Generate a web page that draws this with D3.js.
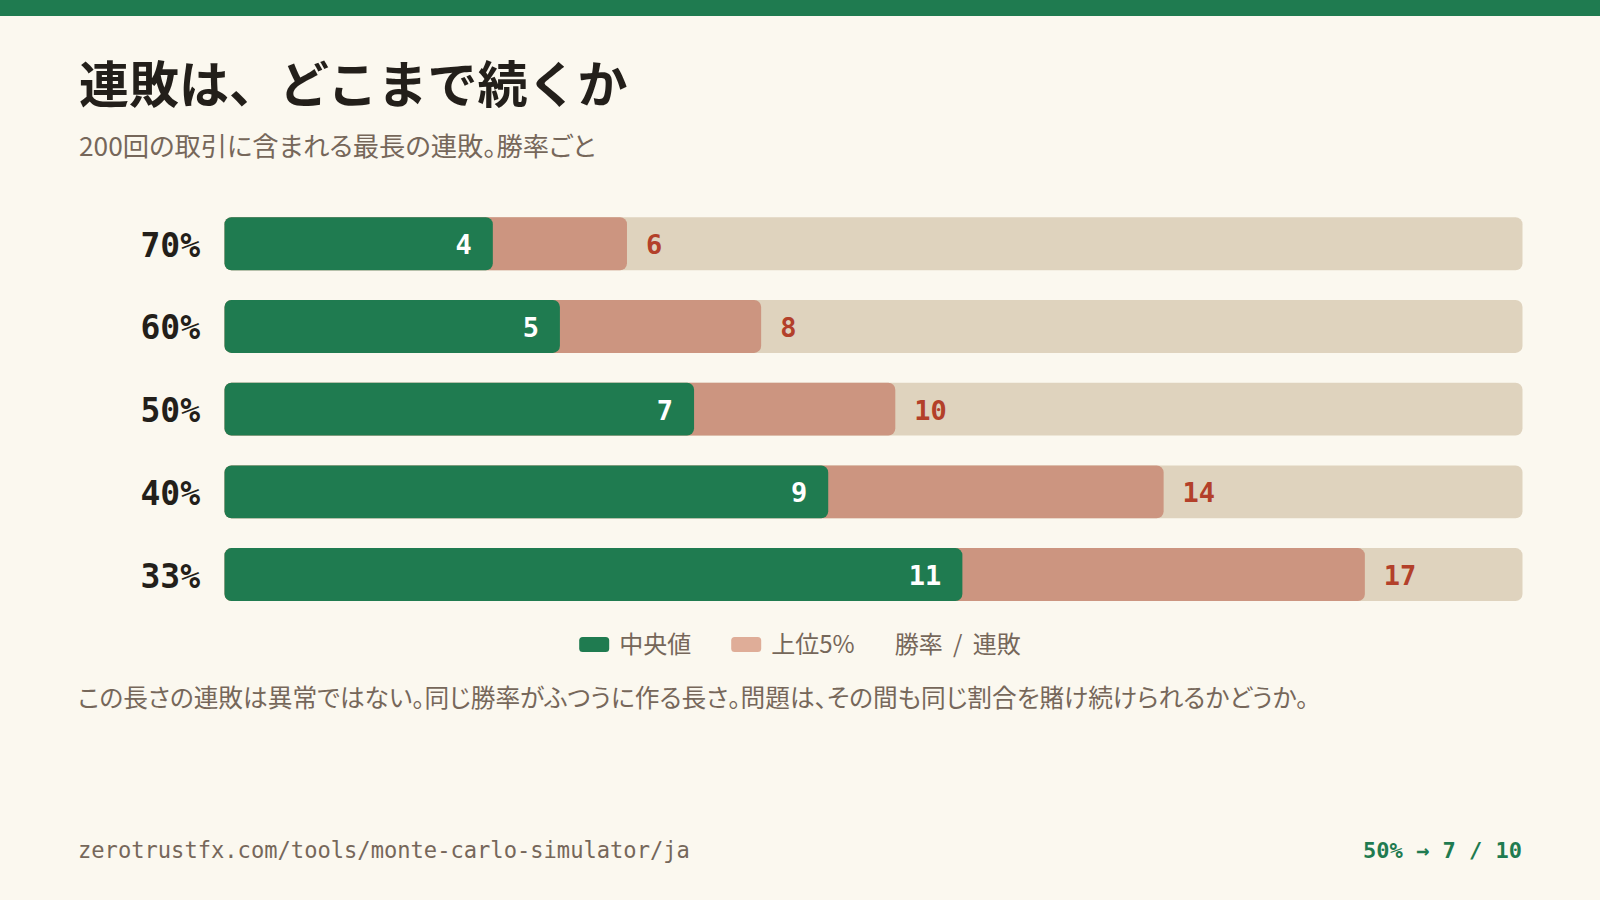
<!DOCTYPE html>
<html><head><meta charset="utf-8">
<script src="https://cdn.jsdelivr.net/npm/d3@7/dist/d3.min.js"></script>
<style>
html,body{margin:0;padding:0;background:#FBF8EF;}
svg{display:block;}
.jp{font-family:"Noto Sans CJK JP","Noto Sans",sans-serif;}
.palt{font-feature-settings:"palt" 1;}
.mono{font-family:"DejaVu Sans Mono","Liberation Mono",monospace;}
</style></head>
<body>
<svg id="chart" width="1600" height="900"></svg>
<script>
// ---- data ----
const winRates = ["70%", "60%", "50%", "40%", "33%"];
const medianStreak = [4, 5, 7, 9, 11];
const p95Streak = [6, 8, 10, 14, 17];
const legendLabels = ["中央値", "上位5%"];
const legendNote = "勝率 / 連敗";
const titleText = "連敗は、どこまで続くか";
const subtitleText = "200回の取引に含まれる最長の連敗。勝率ごと";
const noteText = "この長さの連敗は異常ではない。同じ勝率がふつうに作る長さ。問題は、その間も同じ割合を賭け続けられるかどうか。";
const footerLeft = "zerotrustfx.com/tools/monte-carlo-simulator/ja";
const footerRight = "50% → 7 / 10";

const C = {
  bg: "#FBF8EF", green: "#1F7B50", salmon: "#CC9580", salmonLegend: "#DFAD98",
  track: "#DFD3BE", red: "#B3402A", ink: "#231F1A", muted: "#76675A"
};

const svg = d3.select("#chart");
svg.append("rect").attr("width", 1600).attr("height", 900).attr("fill", C.bg);
svg.append("rect").attr("width", 1600).attr("height", 16).attr("fill", C.green);

svg.append("text").attr("class", "jp").attr("x", 79).attr("y", 103)
  .attr("font-size", 50).attr("font-weight", 700).attr("letter-spacing", 0)
  .attr("fill", C.ink).text(titleText);

svg.append("text").attr("class", "jp palt").attr("x", 79).attr("y", 156)
  .attr("font-size", 26.3).attr("font-weight", 400).attr("fill", C.muted).text(subtitleText);

const rows = winRates.map((w, i) => ({ w, med: medianStreak[i], p95: p95Streak[i] }));

const x = d3.scaleLinear().domain([0, 19.35]).range([224.5, 1522.5]);
const y = d3.scaleBand().domain(winRates).range([202.4, 615.9]).paddingInner(0.36).paddingOuter(0.18);

const g = svg.append("g");
const row = g.selectAll("g.row").data(rows).join("g").attr("class", "row")
  .attr("transform", d => `translate(0,${y(d.w)})`);
const bh = y.bandwidth();

row.append("rect").attr("x", x(0)).attr("width", x.range()[1] - x(0)).attr("height", bh)
  .attr("rx", 7).attr("fill", C.track);
row.append("rect").attr("x", x(0)).attr("width", d => x(d.p95) - x(0)).attr("height", bh)
  .attr("rx", 7).attr("fill", C.salmon);
row.append("rect").attr("x", x(0)).attr("width", d => x(d.med) - x(0)).attr("height", bh)
  .attr("rx", 7).attr("fill", C.green);

row.append("text").attr("class", "mono").attr("x", 200).attr("y", bh / 2 + 13)
  .attr("text-anchor", "end").attr("font-size", 33).attr("font-weight", 700)
  .attr("fill", C.ink).text(d => d.w);
row.append("text").attr("class", "mono").attr("x", d => x(d.med) - 21).attr("y", bh / 2 + 10.5)
  .attr("text-anchor", "end").attr("font-size", 27).attr("font-weight", 700)
  .attr("fill", "#FFFFFF").text(d => d.med);
row.append("text").attr("class", "mono").attr("x", d => x(d.p95) + 19).attr("y", bh / 2 + 10.5)
  .attr("text-anchor", "start").attr("font-size", 27).attr("font-weight", 700)
  .attr("fill", C.red).text(d => d.p95);

// legend
const lg = svg.append("g");
const ly = 644;
let cx = 0;
const items = [
  { label: legendLabels[0], color: C.green },
  { label: legendLabels[1], color: C.salmonLegend },
  { label: legendNote, color: null }
];
items.forEach((it, i) => {
  if (it.color) {
    lg.append("rect").attr("x", cx).attr("y", ly - 7).attr("width", 30).attr("height", 15)
      .attr("rx", 3.5).attr("fill", it.color);
    cx += 40;
  }
  const t = lg.append("text").attr("class", "jp").attr("x", cx).attr("y", ly + 9)
    .attr("font-size", 24).attr("fill", C.muted).attr("word-spacing", 5)
    .attr("xml:space", "preserve").text(it.label);
  cx += t.node().getComputedTextLength() + 40;
});
const total = cx - 40;
lg.attr("transform", `translate(${800 - total / 2},0)`);

svg.append("text").attr("class", "jp palt").attr("x", 78).attr("y", 707)
  .attr("font-size", 24.7).attr("fill", C.muted).text(noteText);

svg.append("text").attr("class", "mono").attr("x", 78).attr("y", 858)
  .attr("font-size", 22.1).attr("fill", C.muted).text(footerLeft);
svg.append("text").attr("class", "mono").attr("x", 1522).attr("y", 858)
  .attr("text-anchor", "end").attr("font-size", 22).attr("font-weight", 700)
  .attr("fill", C.green).text(footerRight);
</script>
</body></html>
